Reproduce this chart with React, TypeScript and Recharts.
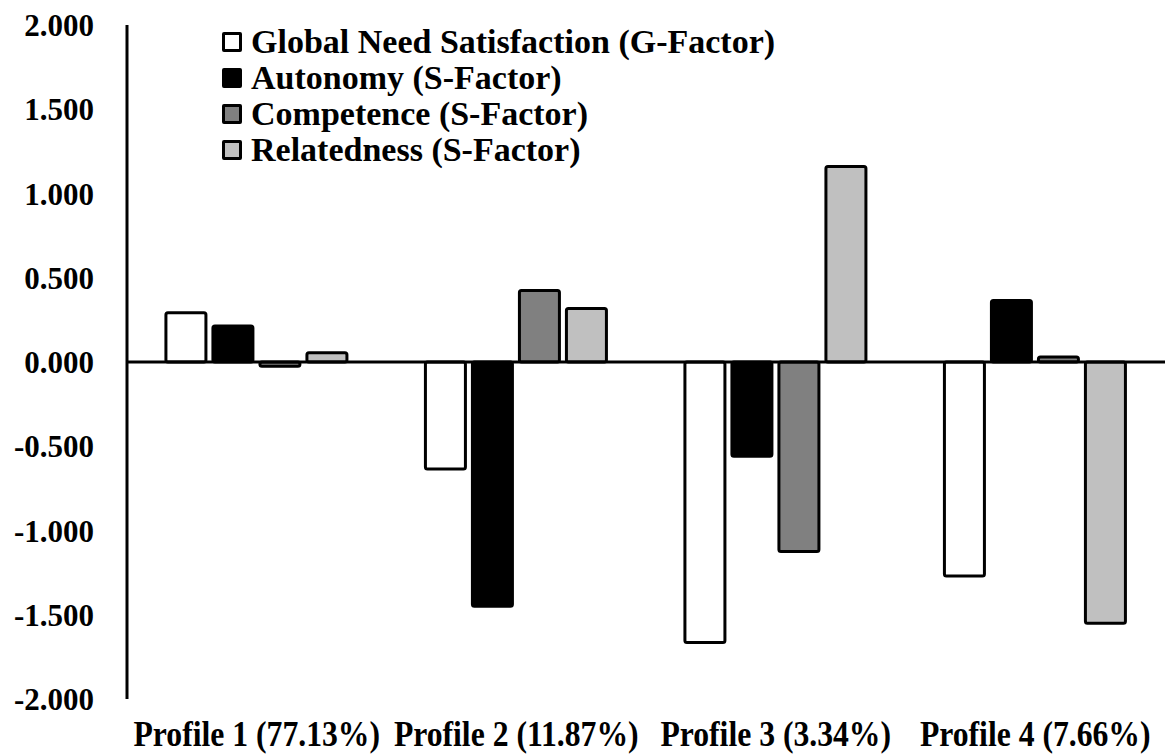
import React from 'react'
import { BarChart, Bar, XAxis, YAxis, ReferenceLine, Legend } from 'recharts'

const profiles = ['Profile 1 (77.13%)', 'Profile 2 (11.87%)', 'Profile 3 (3.34%)', 'Profile 4 (7.66%)']
const globalNeed = [0.293, -0.635, -1.665, -1.27]
const autonomy = [0.214, -1.45, -0.56, 0.365]
const competence = [-0.025, 0.425, -1.125, 0.03]
const relatedness = [0.055, 0.317, 1.16, -1.55]
const yTicks = [-2, -1.5, -1, -0.5, 0, 0.5, 1, 1.5, 2]

const series = [
  { key: 'global', name: 'Global Need Satisfaction (G-Factor)', fill: '#FFFFFF' },
  { key: 'autonomy', name: 'Autonomy (S-Factor)', fill: '#000000' },
  { key: 'competence', name: 'Competence (S-Factor)', fill: '#808080' },
  { key: 'relatedness', name: 'Relatedness (S-Factor)', fill: '#C0C0C0' },
]

const data = profiles.map((p, i) => ({
  profile: p,
  global: globalNeed[i],
  autonomy: autonomy[i],
  competence: competence[i],
  relatedness: relatedness[i],
}))

const FONT = '"Liberation Serif", "Times New Roman", serif'

function YTick(props: any) {
  const { y, payload } = props
  return (
    <text x={94} y={y} dy={11} textAnchor='end' fontFamily={FONT} fontWeight='bold' fontSize={31} fill='#000'>
      {payload.value.toFixed(3)}
    </text>
  )
}

function XTick(props: any) {
  const { x, y, payload } = props
  return (
    <g transform={`translate(${x},${y + 39}) scale(0.88,1)`}>
      <text x={0} y={0} textAnchor='middle' fontFamily={FONT} fontWeight='bold' fontSize={36} fill='#000'>
        {payload.value}
      </text>
    </g>
  )
}

function LegendBox() {
  return (
    <div style={{ fontFamily: FONT, fontWeight: 'bold', fontSize: 34, lineHeight: '36px', color: '#000' }}>
      {series.map((s) => (
        <div key={s.key} style={{ display: 'flex', alignItems: 'center', whiteSpace: 'nowrap' }}>
          <span
            style={{
              display: 'inline-block',
              width: 14,
              height: 14,
              border: '3px solid #000',
              borderRadius: 2,
              background: s.fill,
              marginRight: 9,
            }}
          />
          {s.name}
        </div>
      ))}
    </div>
  )
}

export default function App() {
  return (
    <div style={{ position: 'absolute', left: 0, top: 0, background: '#fff' }}>
      <BarChart
        width={1165}
        height={754}
        data={data}
        margin={{ top: 25, right: 0, bottom: 0, left: 0 }}
        barCategoryGap='15%'
        barGap={7}
      >
        <XAxis dataKey='profile' axisLine={false} tickLine={false} height={55} tick={<XTick />} interval={0} />
        <YAxis
          domain={[-2, 2]}
          ticks={yTicks}
          width={127}
          tickLine={false}
          axisLine={{ stroke: '#000', strokeWidth: 3 }}
          tick={<YTick />}
          interval={0}
        />
        <Legend
          verticalAlign='middle'
          align='center'
          layout='vertical'
          content={<LegendBox />}
          wrapperStyle={{ left: 222, top: 24, width: 620 }}
        />
        {series.map((s) => (
          <Bar
            key={s.key}
            dataKey={s.key}
            name={s.name}
            fill={s.fill}
            stroke='#000'
            strokeWidth={3}
            radius={2}
            isAnimationActive={false}
          />
        ))}
        <ReferenceLine y={0} stroke='#000' strokeWidth={3} />
      </BarChart>
    </div>
  )
}
